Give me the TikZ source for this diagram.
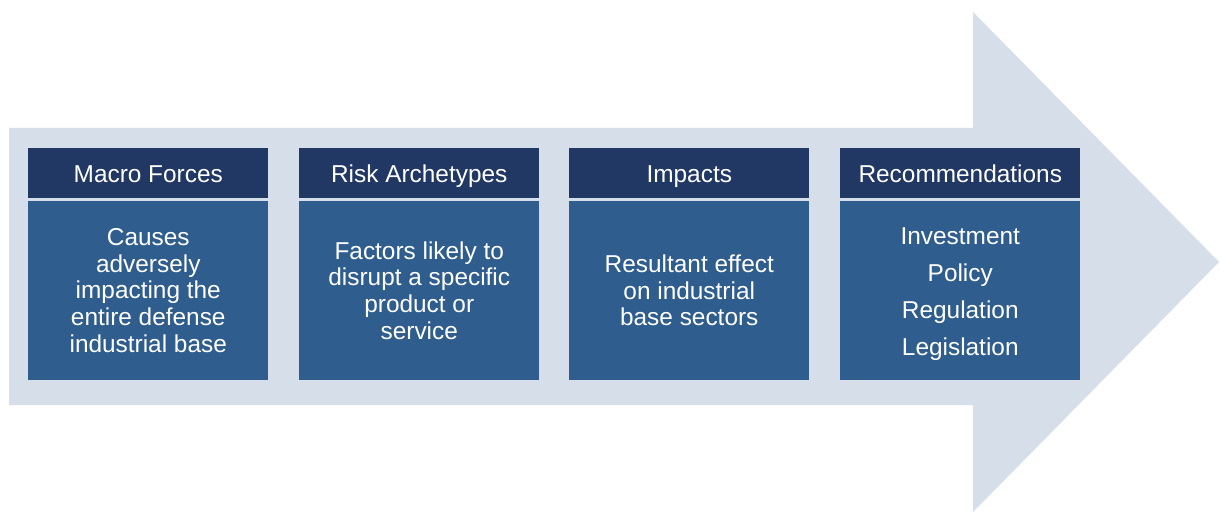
\documentclass[tikz,border=0pt]{standalone}
\usepackage{fontspec}
\setmainfont{Liberation Sans}
\definecolor{arrowfill}{RGB}{214,222,233}
\definecolor{headfill}{RGB}{33,56,101}
\definecolor{bodyfill}{RGB}{47,93,142}
\tikzset{
  txt/.style={text=white, font=\fontsize{18.3pt}{20pt}\selectfont},
  headbox/.style={txt, fill=headfill, draw=none, minimum width=240*0.75pt, minimum height=50*0.75pt, inner sep=0pt,
    text height=17.6pt, text depth=3.6pt, anchor=north west},
  bodybox/.style={fill=bodyfill, draw=none, minimum width=240*0.75pt, minimum height=179.5*0.75pt, inner sep=0pt,
    anchor=north west},
  bodytext/.style={txt, align=center},
}
\begin{document}
\begin{tikzpicture}[x=0.75pt,y=-0.75pt]
\useasboundingbox (0,0) rectangle (1220,520);
\fill[white] (0,0) rectangle (1220,520);
\fill[arrowfill] (9,128) -- (973,128) -- (973,12) -- (1219,262) -- (973,512) -- (973,405) -- (9,405) -- cycle;
\foreach \i/\x/\h/\b/\s in {
  a/28/{Macro Forces}/{Causes\\adversely\\impacting the\\entire defense\\industrial base}/0,
  b/299/{Risk Archetypes}/{Factors likely to\\disrupt a specific\\product or\\service}/0,
  c/569/{Impacts}/{Resultant effect\\on industrial\\base sectors}/0,
  d/840/{Recommendations}/{Investment\\[7.7pt]Policy\\[7.7pt]Regulation\\[7.7pt]Legislation}/3}{
  \node[headbox] (h\i) at (\x,148) {\h};
  \node[bodybox] (b\i) at (\x,200.5) {};
  \node[bodytext, yshift=-\s pt] (t\i) at (b\i.center) {\b};
}
\end{tikzpicture}
\end{document}
